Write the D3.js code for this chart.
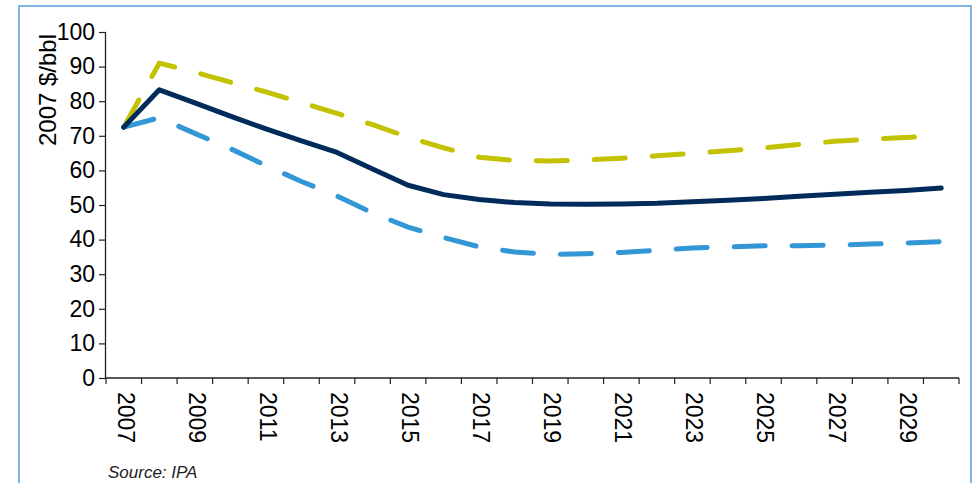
<!DOCTYPE html>
<html>
<head>
<meta charset="utf-8">
<script src="https://cdn.jsdelivr.net/npm/d3@7"></script>
<style>
  html, body { margin: 0; padding: 0; background: #fff; }
  svg { display: block; font-family: "Liberation Sans", Arial, Helvetica, sans-serif; }
</style>
</head>
<body>
<svg id="chart" width="977" height="483"></svg>
<script>
const years = d3.range(2007, 2031);
const yTicks = [0, 10, 20, 30, 40, 50, 60, 70, 80, 90, 100];
const xLabelYears = [2007, 2009, 2011, 2013, 2015, 2017, 2019, 2021, 2023, 2025, 2027, 2029];
const yTitle = "2007 $/bbl";
const sourceText = "Source: IPA";

const highCase = [72.5, 91, 88.4, 85.5, 82.7, 79.6, 76.5, 73.2, 69.6, 66.5, 63.8, 62.9, 62.7, 63.0, 63.5, 64.2, 64.9, 65.7, 66.5, 67.5, 68.4, 69.0, 69.5, 70.0];
const baseCase = [72.5, 83.3, 79.5, 75.7, 72.0, 68.5, 65.2, 60.4, 55.7, 53.0, 51.6, 50.7, 50.3, 50.2, 50.3, 50.5, 50.95, 51.4, 51.9, 52.5, 53.1, 53.7, 54.2, 54.9];
const lowCase  = [72.5, 75.2, 70.7, 66.3, 61.4, 56.8, 52.6, 47.7, 43.6, 40.6, 37.9, 36.4, 35.7, 35.9, 36.3, 36.9, 37.6, 37.9, 38.2, 38.2, 38.4, 38.7, 39.0, 39.4];

const svg = d3.select("#chart");

// frame
svg.append("rect")
  .attr("x", 19).attr("y", 6).attr("width", 952).attr("height", 490)
  .attr("fill", "none").attr("stroke", "#5b9bd5").attr("stroke-width", 1.5);

const x = d3.scaleBand().domain(years).range([106, 959]).padding(0);
const y = d3.scaleLinear().domain([0, 100]).range([378, 32]);
const cx = d => x(d) + x.bandwidth() / 2;

// y axis
const yAxis = d3.axisLeft(y).tickValues(yTicks).tickSize(7).tickPadding(4);
const gy = svg.append("g").attr("transform", "translate(106,0)").call(yAxis);
gy.select(".domain").attr("stroke", "#222").attr("stroke-width", 1.3).attr("d", `M-0.5,${y(100)}V${y(0)}`);
gy.selectAll(".tick line").attr("stroke", "#222").attr("stroke-width", 1.2);
gy.selectAll(".tick text").attr("font-size", 23).attr("fill", "#000").attr("font-family", "'Liberation Sans', Arial, sans-serif");

// x axis line + boundary ticks
const gx = svg.append("g");
gx.append("line").attr("x1", x.range()[0]).attr("x2", x.range()[1])
  .attr("y1", y(0)).attr("y2", y(0)).attr("stroke", "#222").attr("stroke-width", 1.3);
const edges = years.map(d => x(d)).concat([x.range()[1]]);
gx.selectAll("line.tk").data(edges).enter().append("line").attr("class", "tk")
  .attr("x1", d => d).attr("x2", d => d)
  .attr("y1", y(0)).attr("y2", y(0) + 6)
  .attr("stroke", "#222").attr("stroke-width", 1.2);
gx.selectAll("text.xl").data(xLabelYears).enter().append("text").attr("class", "xl")
  .attr("transform", d => `translate(${cx(d) + 2},${y(0) + 14}) rotate(90)`)
  .attr("dy", "0.35em")
  .attr("text-anchor", "start")
  .attr("font-size", 23).attr("fill", "#000")
  .text(d => d);

// y title
svg.append("text")
  .attr("transform", "translate(56,90) rotate(-90)")
  .attr("text-anchor", "middle")
  .attr("font-size", 24).attr("fill", "#000")
  .text(yTitle);

// lines
const line = d3.line().x((d, i) => cx(years[i])).y(d => y(d)).curve(d3.curveLinear);
const series = [
  { data: highCase, color: "#c3c200", dash: "31,27" },
  { data: lowCase, color: "#3396d5", dash: "31,27" },
  { data: baseCase, color: "#002b5a", dash: null }
];
svg.selectAll("path.series").data(series).enter().append("path").attr("class", "series")
  .attr("d", d => line(d.data))
  .attr("fill", "none")
  .attr("stroke", d => d.color)
  .attr("stroke-width", 5)
  .attr("stroke-linecap", "round")
  .attr("stroke-linejoin", "round")
  .attr("stroke-dasharray", d => d.dash);

// source
svg.append("text")
  .attr("x", 108).attr("y", 478)
  .attr("font-size", 17).attr("font-style", "italic").attr("fill", "#222")
  .text(sourceText);
</script>
</body>
</html>
